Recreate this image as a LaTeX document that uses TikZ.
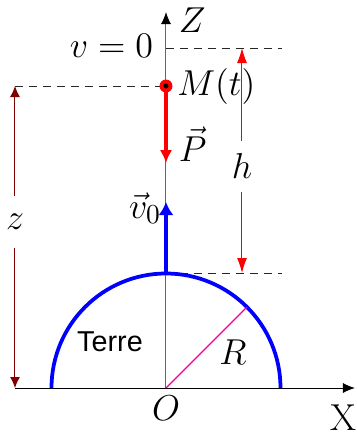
\documentclass[tikz,border=0pt]{standalone}
\usepackage{fontspec}
\newfontfamily\terrefont{Liberation Sans}
\usetikzlibrary{arrows.meta, positioning}

\begin{document}
\begin{tikzpicture}[x=0.4pt, y=0.4pt, font=\fontsize{15}{17}\selectfont,
  levelline/.style={gray!30!black, dash pattern=on 3.2pt off 2.4pt},
  tipaxis/.style={-{Latex[length=4.8pt, width=4pt]}}]
  \useasboundingbox (-166,-47) rectangle (190,388);
  % Points
  \coordinate (O) at (0,0);
  \coordinate (M) at (0,302);
  \coordinate (S) at (0,115);
  \coordinate (Vtop) at (0,340);
  % Axes
  \draw[tipaxis] (-151,0) coordinate (Xstart) -- (189,0) coordinate (Xend);
  \draw[gray!80!black, -{Latex[length=4.8pt, width=4pt, color=black]}] (O) -- (0,376) coordinate (Ztop);
  % Levels
  \draw[levelline] (Vtop) -- (116,340) coordinate (Vend);
  \draw[levelline] (-151,302) coordinate (zM) -- (M);
  \draw[levelline] (S) -- (116,115) coordinate (Send);
  % Earth
  \draw[blue, line width=1.5pt] (114.5,0) arc[start angle=0, end angle=180, radius=114.5];
  \draw[magenta, line width=0.5pt] (O) -- (45:114.5) coordinate (Rpt);
  % Vectors
  \draw[blue, line width=1.4pt, -{Latex[length=5.2pt, width=6pt]}] (S) -- (0,186) coordinate (Vzero);
  \draw[red, line width=1.4pt, -{Latex[length=5.2pt, width=5pt]}] (M) -- (0,225) coordinate (Ptip);
  \fill[red] (M) circle (6.5);
  \fill[black] (M) circle (2.5);
  % Heights
  \coordinate (zO) at (-151,0);
  \node[inner sep=7pt] (zlab) at (-151,166) {$z$};
  \draw[red!50!black, -{Latex[length=4.4pt, width=4pt]}] (zlab) -- (zM);
  \draw[red!50!black, -{Latex[length=4.4pt, width=4pt]}] (zlab) -- (zO);
  \node[inner sep=5pt] (hlab) at (76,222) {$h$};
  \draw[red, -{Latex[length=6pt, width=4pt]}] (hlab) -- (76,340) coordinate (hV);
  \draw[red, -{Latex[length=6pt, width=4pt]}] (hlab) -- (76,115) coordinate (hS);
  % Labels
  \node[anchor=east] (vlab) at (-4,342) {$v=0$};
  \node[anchor=west] (Zlab) at (4,368) {$Z$};
  \node[right=1pt of M] (Mlab) {$M(t)$};
  \node[anchor=west, inner sep=1pt] (Plab) at (10,244) {$\vec{P}$};
  \node[anchor=east, inner sep=1pt] (vzlab) at (-2,180) {$\vec{v}_0$};
  \node (Terre) at (-56,46) {\terrefont\fontsize{11.5}{13}\selectfont Terre};
  \node (Rlab) at (67,36) {$R$};
  \node (Olab) at (0,-20) {$O$};
  \node (Xlab) at (177,-30) {X};
\end{tikzpicture}
\end{document}
